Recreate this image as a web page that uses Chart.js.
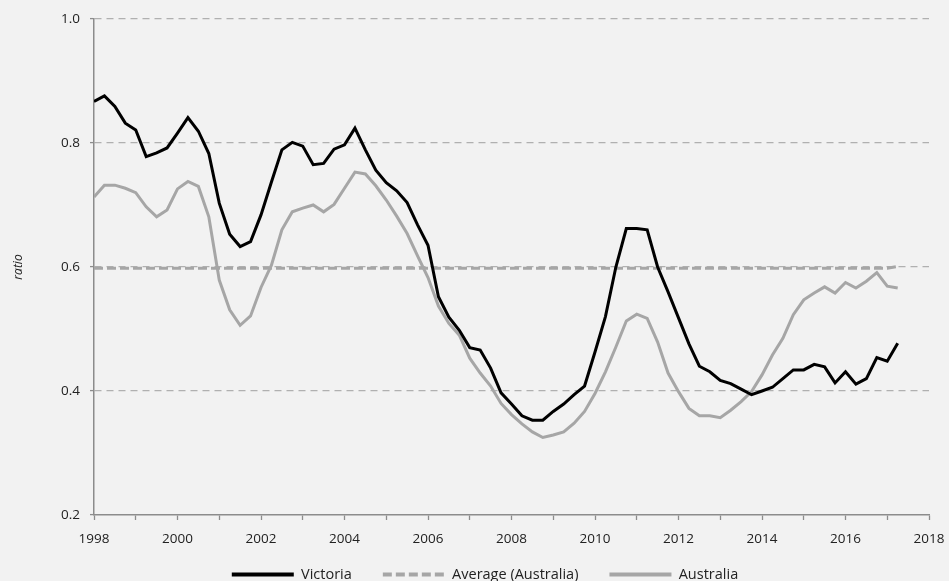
<!DOCTYPE html>
<html>
<head>
<meta charset="utf-8">
<title>Ratio - Victoria and Australia</title>
<script src="https://cdn.jsdelivr.net/npm/chart.js"></script>
<style>
  html, body { margin: 0; padding: 0; background: #f2f2f2; }
  #wrap { width: 949px; height: 581px; position: relative; }
</style>
</head>
<body>
<div id="wrap"><canvas id="ratioChart"></canvas></div>
<script>
  // quarterly figures, first point is 1998 Q1
  const startYear = 1998;

  const victoria = [
    0.867, 0.876, 0.859, 0.832, 0.821, 0.778, 0.784, 0.792, 0.816, 0.841,
    0.819, 0.783, 0.703, 0.653, 0.633, 0.641, 0.684, 0.737, 0.789, 0.801,
    0.795, 0.765, 0.767, 0.790, 0.797, 0.824, 0.789, 0.756, 0.736, 0.723,
    0.704, 0.668, 0.635, 0.552, 0.519, 0.498, 0.470, 0.466, 0.437, 0.397,
    0.379, 0.360, 0.353, 0.353, 0.367, 0.379, 0.394, 0.408, 0.463, 0.520,
    0.600, 0.662, 0.662, 0.660, 0.600, 0.560, 0.518, 0.476, 0.440, 0.431,
    0.417, 0.412, 0.403, 0.394, 0.400, 0.406, 0.420, 0.434, 0.434, 0.443,
    0.439, 0.413, 0.431, 0.411, 0.420, 0.454, 0.448, 0.477
  ];

  const australia = [
    0.713, 0.732, 0.732, 0.727, 0.720, 0.697, 0.681, 0.692, 0.726, 0.738,
    0.730, 0.681, 0.579, 0.531, 0.506, 0.521, 0.567, 0.603, 0.660, 0.689,
    0.695, 0.700, 0.689, 0.701, 0.727, 0.753, 0.750, 0.731, 0.708, 0.682,
    0.654, 0.618, 0.583, 0.537, 0.509, 0.490, 0.453, 0.429, 0.408, 0.380,
    0.362, 0.347, 0.334, 0.325, 0.329, 0.334, 0.348, 0.367, 0.396, 0.431,
    0.471, 0.513, 0.524, 0.517, 0.479, 0.429, 0.399, 0.372, 0.360, 0.360,
    0.357, 0.369, 0.383, 0.399, 0.426, 0.458, 0.485, 0.523, 0.547, 0.558,
    0.568, 0.558, 0.575, 0.566, 0.577, 0.591, 0.569, 0.566
  ];

  const average = [
    0.598, 0.598, 0.598, 0.598, 0.598, 0.598, 0.598, 0.598, 0.598, 0.598,
    0.598, 0.598, 0.598, 0.598, 0.598, 0.598, 0.598, 0.598, 0.598, 0.598,
    0.598, 0.598, 0.598, 0.598, 0.598, 0.598, 0.598, 0.598, 0.598, 0.598,
    0.598, 0.598, 0.598, 0.598, 0.598, 0.598, 0.598, 0.598, 0.598, 0.598,
    0.598, 0.598, 0.598, 0.598, 0.598, 0.598, 0.598, 0.598, 0.598, 0.598,
    0.598, 0.598, 0.598, 0.598, 0.598, 0.598, 0.598, 0.598, 0.598, 0.598,
    0.598, 0.598, 0.598, 0.598, 0.598, 0.598, 0.598, 0.598, 0.598, 0.598,
    0.598, 0.598, 0.598, 0.598, 0.598, 0.598, 0.598, 0.601
  ];

  const seriesNames = ['Victoria', 'Average (Australia)', 'Australia'];
  const xLabelYears = [1998, 2000, 2002, 2004, 2006, 2008, 2010, 2012, 2014, 2016, 2018];

  // x position of each quarter
  const quarters = victoria.map((_, i) => startYear + i / 4);
  const toPoints = arr => arr.map((v, i) => ({ x: quarters[i], y: v }));

  Chart.defaults.font.family = "'Open Sans', 'DejaVu Sans', sans-serif";
  Chart.defaults.font.size = 13.5;
  Chart.defaults.color = '#222';

  const axisGrey = '#8c8c8c';

  const ctx = document.getElementById('ratioChart').getContext('2d');
  const chart = new Chart(ctx, {
    type: 'line',
    data: {
      datasets: [
        {
          label: seriesNames[0],
          data: toPoints(victoria),
          borderColor: '#000000',
          borderWidth: 3,
          pointRadius: 0,
          tension: 0
        },
        {
          label: seriesNames[1],
          data: toPoints(average),
          borderColor: '#a6a6a6',
          borderWidth: 3,
          borderDash: [9, 4],
          pointRadius: 0,
          tension: 0
        },
        {
          label: seriesNames[2],
          data: toPoints(australia),
          borderColor: '#a6a6a6',
          borderWidth: 3,
          pointRadius: 0,
          tension: 0
        }
      ]
    },
    options: {
      responsive: true,
      maintainAspectRatio: false,
      animation: false,
      layout: {
        padding: { left: 21, right: 0, top: 19, bottom: -10.75 }
      },
      plugins: {
        tooltip: { enabled: false },
        legend: {
          position: 'bottom',
          // empty title with negative padding pulls the items up while
          // labels.padding keeps the wide gaps between entries
          title: {
            display: true,
            text: '',
            font: { size: 10 },
            padding: { top: -23.75, bottom: 0 }
          },
          labels: {
            usePointStyle: true,
            pointStyleWidth: 62,
            padding: 31,
            font: { size: 14.5 },
            generateLabels: (c) => c.data.datasets.map((ds, i) => ({
              text: ds.label,
              datasetIndex: i,
              pointStyle: 'line',
              strokeStyle: ds.borderColor,
              fillStyle: ds.borderColor,
              lineWidth: 4,
              lineDash: ds.borderDash || [],
              hidden: false
            }))
          }
        }
      },
      scales: {
        x: {
          type: 'linear',
          min: 1998,
          max: 2018,
          afterFit: (scale) => {
            scale.height = 33;
            scale.paddingRight = 20;
          },
          ticks: {
            stepSize: 1,
            autoSkip: false,
            maxRotation: 0,
            padding: 11,
            callback: (v) => xLabelYears.includes(v) ? String(v) : ''
          },
          grid: {
            drawOnChartArea: false,
            drawTicks: true,
            tickLength: 5,
            tickColor: axisGrey,
            tickWidth: 1.3
          },
          border: { color: axisGrey, width: 1.5 }
        },
        y: {
          min: 0.2,
          max: 1.0,
          afterFit: (scale) => { scale.width = 73; },
          ticks: {
            stepSize: 0.2,
            padding: 10,
            callback: (v) => v.toFixed(1)
          },
          title: {
            display: true,
            text: 'ratio',
            font: { size: 12, style: 'italic' },
            padding: { top: -10, bottom: 4 }
          },
          grid: {
            color: (c) => (c.tick && Math.abs(c.tick.value - 0.2) < 1e-6) ? 'rgba(0,0,0,0)' : '#b0b0b0',
            lineWidth: 1.2,
            tickLength: 4,
            tickColor: axisGrey,
            tickWidth: 1.3
          },
          border: { color: axisGrey, width: 1.5, dash: [7, 5] }
        }
      }
    }
  });
</script>
</body>
</html>
